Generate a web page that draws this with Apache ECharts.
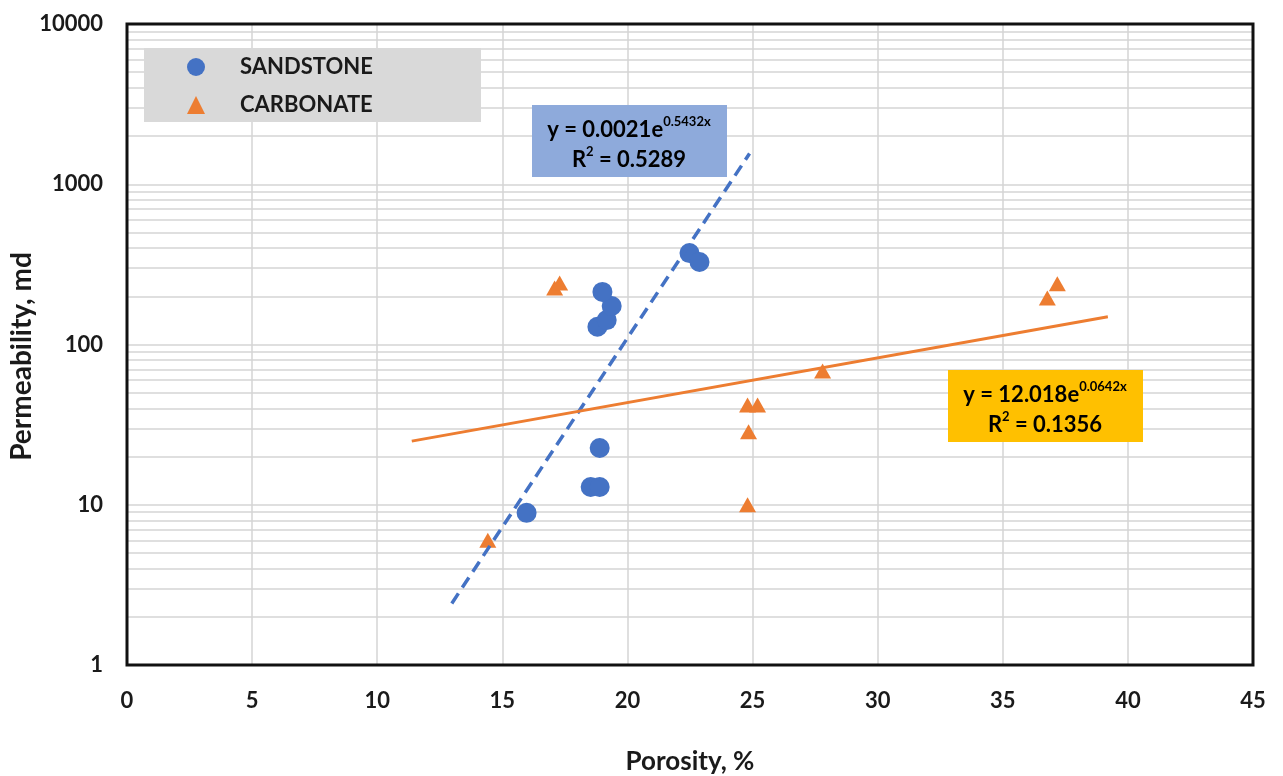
<!DOCTYPE html>
<html>
<head>
<meta charset="utf-8">
<script src="https://cdn.jsdelivr.net/npm/echarts@6/dist/echarts.min.js"></script>
<style>
  html, body { margin: 0; padding: 0; background: #ffffff; }
  #chart { width: 1283px; height: 776px; }
</style>
</head>
<body>
<div id="chart"></div>
<script>
// Core samples: porosity (%) and permeability (md)
const sandstonePorosity = [15.97, 18.53, 18.89, 18.89, 18.80, 19.17, 19.37, 19.00, 22.48, 22.88];
const sandstonePerm     = [8.9, 12.9, 12.9, 22.6, 129, 142, 174, 213, 372, 327];
const carbonatePorosity = [14.42, 17.09, 17.29, 24.80, 25.20, 24.84, 24.80, 27.80, 36.78, 37.18];
const carbonatePerm     = [6.0, 225, 242, 41.9, 41.9, 28.5, 10.0, 68.4, 195, 239];

// Exponential fits y = a * e^(b * x): [a, b], R², and the porosity span of each line
const sandstoneFit = [0.0021, 0.5432];
const sandstoneR2 = 0.5289;
const sandstoneFitRange = [12.98, 24.88];
const carbonateFit = [12.018, 0.0642];
const carbonateR2 = 0.1356;
const carbonateFitRange = [11.38, 39.2];

const FONT = 'Lato, "Open Sans", "DejaVu Sans", sans-serif';
const TEXT = '#1a1a1a';
const BLUE = '#4472C4';
const ORANGE = '#ED7D31';
const GRID_GREY = '#d4d4d4';

// Plot rectangle in pixels
const PLOT = { left: 127, top: 24, right: 30, bottom: 111 };
const W = 1283, H = 776;

const zip = (xs, ys) => xs.map((x, i) => [x, ys[i]]);
// On a log axis the exponential fit is a straight segment, so its two ends suffice
const fitLine = (fit, range) => range.map(x => [x, fit[0] * Math.exp(fit[1] * x)]);

// Minor log grid lines: 2..9 within each decade
const minorGrid = [];
for (let d = 1; d <= 1000; d *= 10) {
  for (let m = 2; m <= 9; m++) minorGrid.push({ yAxis: m * d });
}

const eqRich = {
  a: { fontFamily: FONT, fontWeight: 'bold', fontSize: 22, color: TEXT, lineHeight: 30, verticalAlign: 'bottom' },
  s: { fontFamily: FONT, fontWeight: 'bold', fontSize: 13, color: TEXT, lineHeight: 30, verticalAlign: 'top', padding: [4, 0, 0, 0] }
};
const eqText = (fit, r2) =>
  `{a|y = ${fit[0]}e}{s|${fit[1]}x}\n{a|R}{s|2}{a| = ${r2}}`;

const chart = echarts.init(document.getElementById('chart'));
chart.setOption({
  animation: false,
  backgroundColor: '#ffffff',
  grid: {
    left: PLOT.left, top: PLOT.top, right: PLOT.right, bottom: PLOT.bottom,
    containLabel: false,
    outerBoundsMode: 'none',
    show: false
  },
  legend: {
    orient: 'vertical',
    left: 182, top: 49,
    itemWidth: 18, itemHeight: 18,
    itemGap: 12,
    selectedMode: false,
    itemStyle: { opacity: 1 },
    data: [
      { name: 'SANDSTONE', icon: 'circle' },
      { name: 'CARBONATE', icon: 'triangle' }
    ],
    textStyle: {
      fontFamily: FONT, fontWeight: 'bold', fontSize: 22, color: TEXT,
      padding: [0, 0, 0, 30], lineHeight: 26
    }
  },
  graphic: [
    { type: 'rect', z: 3, shape: { x: 144, y: 48, width: 337, height: 74 }, style: { fill: '#d9d9d9' } },
    // plot frame
    { type: 'rect', z: 6, silent: true,
      shape: { x: PLOT.left, y: PLOT.top, width: W - PLOT.left - PLOT.right, height: H - PLOT.top - PLOT.bottom },
      style: { fill: 'none', stroke: '#111', lineWidth: 3 } },
    { type: 'rect', z: 10, shape: { x: 532, y: 105, width: 195, height: 72 }, style: { fill: '#8eaadb' } },
    { type: 'text', z: 11, x: 629, y: 141,
      style: { text: eqText(sandstoneFit, sandstoneR2), rich: eqRich, align: 'center', verticalAlign: 'middle' } },
    { type: 'rect', z: 10, shape: { x: 948, y: 370, width: 195, height: 72 }, style: { fill: '#ffc000' } },
    { type: 'text', z: 11, x: 1045, y: 406,
      style: { text: eqText(carbonateFit, carbonateR2), rich: eqRich, align: 'center', verticalAlign: 'middle' } }
  ],
  xAxis: {
    type: 'value',
    min: 0, max: 45, interval: 5,
    name: 'Porosity, %',
    nameLocation: 'middle',
    nameGap: 84,
    nameMoveOverlap: false,
    nameTextStyle: { fontFamily: FONT, fontWeight: 'bold', fontSize: 26, color: TEXT },
    axisLine: { show: false },
    axisTick: { show: false },
    axisLabel: { fontFamily: FONT, fontWeight: 'bold', fontSize: 22, color: TEXT, margin: 25 },
    splitLine: { show: true, lineStyle: { color: GRID_GREY, width: 1.5 } }
  },
  yAxis: {
    type: 'log',
    logBase: 10,
    min: 1, max: 10000,
    name: 'Permeability, md',
    nameLocation: 'middle',
    nameGap: 91,
    nameMoveOverlap: false,
    nameTextStyle: {
      fontFamily: FONT, fontWeight: 'bold', fontSize: 28, color: TEXT,
      padding: [0, 24, 0, 0]
    },
    axisLine: { show: false },
    axisTick: { show: false },
    axisLabel: {
      fontFamily: FONT, fontWeight: 'bold', fontSize: 22, color: TEXT, margin: 24,
      formatter: v => String(Math.round(v))
    },
    splitLine: { show: true, lineStyle: { color: GRID_GREY, width: 1.5 } }
  },
  series: [
    {
      name: 'minor-grid',
      type: 'line',
      data: [],
      z: 1,
      silent: true,
      markLine: {
        z: 1,
        silent: true,
        symbol: 'none',
        label: { show: false },
        animation: false,
        lineStyle: { color: GRID_GREY, width: 1.5, type: 'solid' },
        emphasis: { disabled: true },
        data: minorGrid
      }
    },
    {
      name: 'SANDSTONE',
      type: 'scatter',
      symbol: 'circle',
      symbolSize: 20,
      itemStyle: { color: BLUE, opacity: 1 },
      z: 4,
      data: zip(sandstonePorosity, sandstonePerm)
    },
    {
      name: 'CARBONATE',
      type: 'scatter',
      symbol: 'triangle',
      symbolSize: [17, 15],
      itemStyle: { color: ORANGE, opacity: 1 },
      z: 4,
      data: zip(carbonatePorosity, carbonatePerm)
    },
    {
      name: 'SANDSTONE fit',
      type: 'line',
      showSymbol: false,
      symbol: 'none',
      z: 5,
      lineStyle: { color: BLUE, width: 3.5, type: [12, 7] },
      data: fitLine(sandstoneFit, sandstoneFitRange)
    },
    {
      name: 'CARBONATE fit',
      type: 'line',
      showSymbol: false,
      symbol: 'none',
      z: 5,
      lineStyle: { color: ORANGE, width: 3 },
      data: fitLine(carbonateFit, carbonateFitRange)
    }
  ]
});
</script>
</body>
</html>
